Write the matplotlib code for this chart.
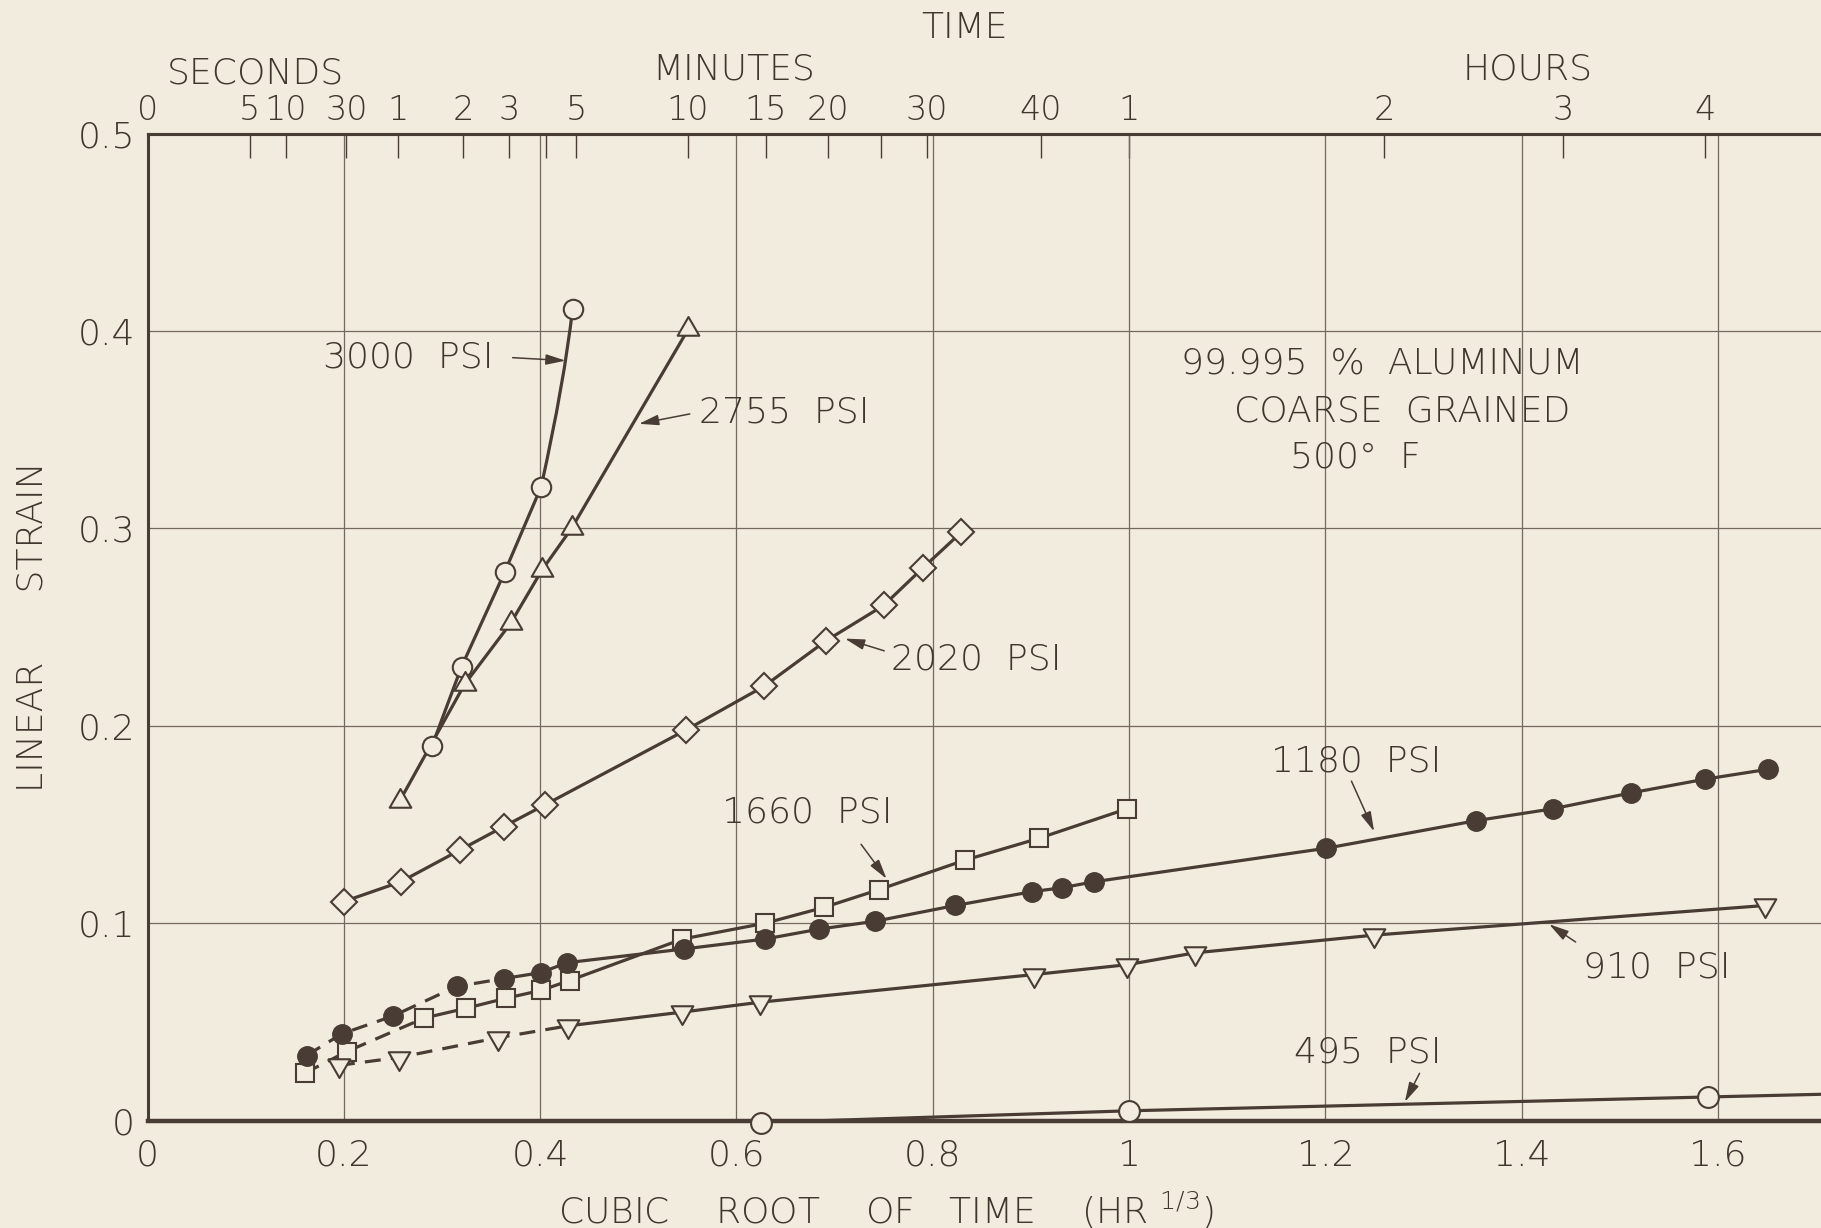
import numpy as np
import matplotlib.pyplot as plt
from matplotlib.path import Path
from matplotlib.patches import PathPatch

BG = '#f2ecde'
INK = '#483c34'
TXT = '#40362e'
GRID = '#74695e'

plt.rcParams['font.family'] = ['DejaVu Sans']
plt.rcParams['font.weight'] = 'light'

# strain vs cube root of time (hr^1/3)
x3000 = [0.290, 0.320, 0.364, 0.401, 0.433]
y3000 = [0.190, 0.230, 0.278, 0.321, 0.411]

x2755 = [0.257, 0.323, 0.370, 0.402, 0.432, 0.551]
y2755 = [0.162, 0.221, 0.252, 0.279, 0.300, 0.401]

x2020 = [0.200, 0.258, 0.318, 0.363, 0.405, 0.549, 0.628, 0.691, 0.750, 0.790, 0.829]
y2020 = [0.111, 0.121, 0.137, 0.149, 0.160, 0.198, 0.220, 0.243, 0.261, 0.280, 0.298]

x1660 = [0.160, 0.203, 0.282, 0.325, 0.365, 0.401, 0.430, 0.545, 0.629, 0.689,
         0.745, 0.833, 0.908, 0.998]
y1660 = [0.024, 0.035, 0.052, 0.057, 0.062, 0.066, 0.071, 0.092, 0.100, 0.108,
         0.117, 0.132, 0.143, 0.158]

x1180 = [0.162, 0.198, 0.250, 0.315, 0.363, 0.401, 0.427, 0.547, 0.629, 0.684,
         0.741, 0.823, 0.901, 0.932, 0.964, 1.201, 1.354, 1.432, 1.511, 1.587, 1.651]
y1180 = [0.033, 0.044, 0.053, 0.068, 0.072, 0.075, 0.080, 0.087, 0.092, 0.097,
         0.101, 0.109, 0.116, 0.118, 0.121, 0.138, 0.152, 0.158, 0.166, 0.173, 0.178]

x910 = [0.195, 0.256, 0.357, 0.428, 0.545, 0.624, 0.903, 0.998, 1.067, 1.250, 1.648]
y910 = [0.028, 0.032, 0.042, 0.048, 0.055, 0.060, 0.074, 0.079, 0.085, 0.094, 0.109]

x495 = [0.625, 1.000, 1.590]
y495 = [-0.001, 0.005, 0.012]

# how many leading points of a curve are joined by a dashed line
dash_1660 = 3
dash_1180 = 5
dash_910 = 4

XMAX = 1.705
x_ticks = [0, 0.2, 0.4, 0.6, 0.8, 1.0, 1.2, 1.4, 1.6]
x_tick_labels = ['0', '0.2', '0.4', '0.6', '0.8', '1', '1.2', '1.4', '1.6']
y_ticks = [0, 0.1, 0.2, 0.3, 0.4, 0.5]
y_tick_labels = ['0', '0.1', '0.2', '0.3', '0.4', '0.5']

# top time scale, positions in hr^(1/3) as drawn on the chart
top_pos = [0, 0.104, 0.1406, 0.2027, 0.2554, 0.3218, 0.3684, 0.4368, 0.5503,
           0.630, 0.6934, 0.7937, 0.910, 1.0, 1.26, 1.442, 1.587]
top_labels = ['0', '5', '10', '30', '1', '2', '3', '5', '10', '15', '20', '30',
              '40', '1', '2', '3', '4']
top_minor = [0.4055, 0.747]

label_text = ['3000  PSI', '2755  PSI', '2020  PSI', '1660  PSI', '1180  PSI',
              '910  PSI', '495  PSI']
label_xy = [(0.353, 0.3865), (0.562, 0.3588), (0.757, 0.2335), (0.672, 0.156),
            (1.231, 0.1818), (1.538, 0.0776), (1.243, 0.0345)]
label_ha = ['right', 'left', 'left', 'center', 'center', 'center', 'center']
arrow_tail = [(0.372, 0.3865), (0.5525, 0.358), (0.7506, 0.238), (0.727, 0.140),
              (1.2266, 0.172), (1.455, 0.0905), (1.296, 0.024)]
arrow_head = [(0.426, 0.385), (0.5007, 0.353), (0.7105, 0.2442), (0.753, 0.1225),
              (1.2497, 0.1465), (1.428, 0.0995), (1.281, 0.0095)]

info_lines = ['99.995  %  ALUMINUM', 'COARSE  GRAINED', '500°  F']
info_xy = [(1.258, 0.3835), (1.278, 0.359), (1.231, 0.336)]

# triangles centred on their centroid, like the hand drawn ones
tri_up = Path([(-1, -0.577), (1, -0.577), (0, 1.155), (-1, -0.577)],
              [Path.MOVETO, Path.LINETO, Path.LINETO, Path.CLOSEPOLY])
tri_down = Path([(-1, 0.577), (1, 0.577), (0, -1.155), (-1, 0.577)],
                [Path.MOVETO, Path.LINETO, Path.LINETO, Path.CLOSEPOLY])

fig = plt.figure(figsize=(18.21, 12.28), dpi=100, facecolor=BG)
ax = fig.add_axes([0.081, 0.0874, 0.919, 0.8038])
ax.set_facecolor(BG)
ax.set_xlim(0, XMAX)
ax.set_ylim(0, 0.5)

ax.set_xticks(x_ticks, x_tick_labels)
ax.set_yticks(y_ticks, y_tick_labels)
ax.grid(True, color=GRID, lw=0.9, zorder=0)
ax.set_axisbelow(True)
ax.tick_params(axis='x', length=0, pad=13, labelsize=26, labelcolor=TXT)
ax.tick_params(axis='y', length=0, pad=9, labelsize=26, labelcolor=TXT)

ax.spines['right'].set_visible(False)
for side, w in [('left', 2.2), ('bottom', 3.2), ('top', 2.2)]:
    ax.spines[side].set_color(INK)
    ax.spines[side].set_linewidth(w)

sec = ax.secondary_xaxis('top')
sec.set_xticks(top_pos, top_labels)
sec.set_xticks(top_minor, minor=True)
sec.tick_params(which='both', direction='in', length=17, width=1.0, color=INK,
                pad=5, labelsize=24, labelcolor=TXT)
sec.spines['top'].set_color(INK)
sec.spines['top'].set_linewidth(2.2)

LW = 2.3
line_kw = dict(color=INK, lw=LW, zorder=3, solid_capstyle='round')
dash_kw = dict(color=INK, lw=LW, zorder=3, ls=(0, (5, 3.2)))
open_kw = dict(ls='none', mfc=BG, mec=INK, mew=1.5, zorder=4, clip_on=False)

# 3000 psi: straight segments, then bending up into the last point
verts = list(zip(x3000[:-1], y3000[:-1]))
cx = x3000[-2] + 0.75 * (x3000[-1] - x3000[-2])
cy = y3000[-2] + 0.6 * (y3000[-1] - y3000[-2])
verts += [(cx, cy), (x3000[-1], y3000[-1])]
codes = [Path.MOVETO] + [Path.LINETO] * (len(x3000) - 2) + [Path.CURVE3, Path.CURVE3]
ax.add_patch(PathPatch(Path(verts, codes), fill=False, ec=INK, lw=LW, zorder=3))
ax.plot(x3000, y3000, marker='o', ms=14, **open_kw)

ax.plot(x2755, y2755, **line_kw)
ax.plot(x2755, y2755, marker=tri_up, ms=18, **open_kw)

ax.plot(x2020, y2020, **line_kw)
ax.plot(x2020, y2020, marker='D', ms=13, **open_kw)

ax.plot(x1660[:dash_1660], y1660[:dash_1660], **dash_kw)
ax.plot(x1660[dash_1660 - 1:], y1660[dash_1660 - 1:], **line_kw)
ax.plot(x1660, y1660, marker='s', ms=13, **open_kw)

ax.plot(x1180[:dash_1180], y1180[:dash_1180], **dash_kw)
ax.plot(x1180[dash_1180 - 1:], y1180[dash_1180 - 1:], **line_kw)
ax.plot(x1180, y1180, ls='none', marker='o', ms=14, mfc=INK, mec=INK, zorder=4)

ax.plot(x910[:dash_910], y910[:dash_910], **dash_kw)
ax.plot(x910[dash_910 - 1:], y910[dash_910 - 1:], **line_kw)
ax.plot(x910, y910, marker=tri_down, ms=18, **open_kw)

# 495 psi line runs on past the last point to the edge of the sheet
slope = (y495[-1] - y495[-2]) / (x495[-1] - x495[-2])
ax.plot(x495 + [XMAX], y495 + [y495[-1] + slope * (XMAX - x495[-1])], **line_kw)
ax.plot(x495, y495, marker='o', ms=15, **open_kw)

for txt, xy, ha, tail, head in zip(label_text, label_xy, label_ha, arrow_tail, arrow_head):
    ax.text(xy[0], xy[1], txt, fontsize=26, color=TXT, ha=ha, va='center',
            zorder=5)
    ax.annotate('', xy=head, xytext=tail,
                arrowprops=dict(arrowstyle='-|>,head_length=0.6,head_width=0.16',
                                color=INK, lw=1.1, shrinkA=0, shrinkB=0,
                                mutation_scale=20), zorder=5)

for txt, xy in zip(info_lines, info_xy):
    ax.text(xy[0], xy[1], txt, fontsize=26, color=TXT, ha='center', va='center')

ax.text(0.441, -0.0905, 'CUBIC    ROOT    OF   TIME    (HR $^{1/3}$)',
        transform=ax.transAxes, fontsize=26, color=TXT, ha='center', va='center')
ax.text(-0.0687, 0.5, 'LINEAR      STRAIN', transform=ax.transAxes, fontsize=26,
        color=TXT, ha='center', va='center', rotation=90)

ax.text(0.488, 1.107, 'TIME', transform=ax.transAxes, fontsize=26, color=TXT,
        ha='center', va='center')
ax.text(0.0645, 1.061, 'SECONDS', transform=ax.transAxes, fontsize=26, color=TXT,
        ha='center', va='center')
ax.text(0.3505, 1.0648, 'MINUTES', transform=ax.transAxes, fontsize=26, color=TXT,
        ha='center', va='center')
ax.text(0.825, 1.0648, 'HOURS', transform=ax.transAxes, fontsize=26, color=TXT,
        ha='center', va='center')

fig.savefig('out.png', dpi=100, facecolor=BG)
